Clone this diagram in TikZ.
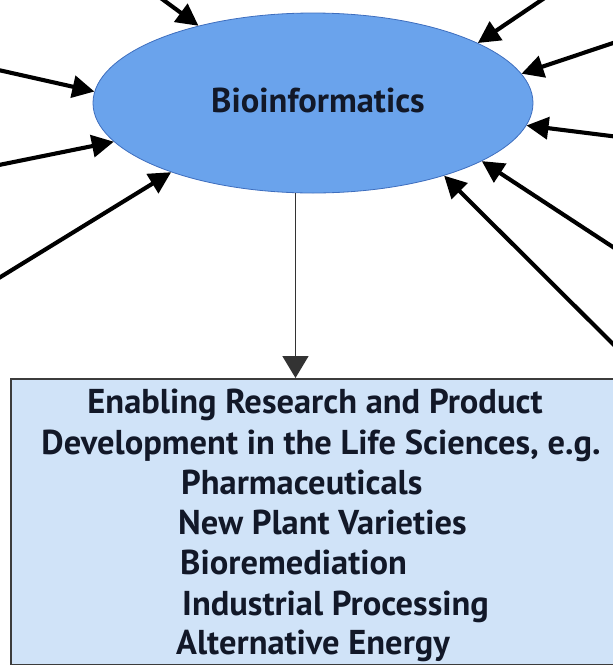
\documentclass[tikz,border=0pt]{standalone}
\usepackage{fontspec}
\setmainfont{PT Sans}
\usetikzlibrary{shapes.geometric,arrows.meta}
\definecolor{ovalfill}{RGB}{106,163,236}
\definecolor{ovalline}{RGB}{62,110,190}
\definecolor{boxfill}{RGB}{208,227,248}
\definecolor{boxline}{RGB}{60,60,60}
\definecolor{ink}{RGB}{18,24,40}
\tikzset{
  feed/.style={line width=4.1pt, black, -{Triangle[length=22pt,width=22pt]}},
  down/.style={line width=1.6pt, black!80, -{Triangle[length=22pt,width=26pt]}},
  oval/.style={ellipse, draw=ovalline, line width=0.8pt, fill=ovalfill,
    minimum width=440pt, minimum height=180pt, inner sep=0pt},
  panel/.style={rectangle, draw=boxline, line width=1.6pt, fill=boxfill,
    minimum width=620pt, minimum height=286pt, inner sep=0pt, anchor=north west},
  line/.style={inner sep=0pt, text=ink, font=\bfseries\fontsize{34.5}{38}\selectfont},
}
\begin{document}
\begin{tikzpicture}[x=1pt,y=-1pt]
\useasboundingbox (0,0) rectangle (613,665);

% central topic
\node[oval] (bio) at (313,103) {};
\node[line, anchor=base] (biolabel) at (318,112) {Bioinformatics};

% outcome panel
\node[panel] (box) at (10,378) {};
\node[line, anchor=base] (t1) at (315,413) {Enabling Research and Product};
\node[line, anchor=base] (t2) at (321,454) {Development in the Life Sciences, e.g.};
\node[line, anchor=base west] (t3) at (181,494) {Pharmaceuticals};
\node[line, anchor=base west] (t4) at (178,534) {New Plant Varieties};
\node[line, anchor=base west] (t5) at (180,574) {Bioremediation};
\node[line, anchor=base west] (t6) at (182,615) {Industrial Processing};
\node[line, anchor=base west] (t7) at (176,654) {Alternative Energy};

% incoming sources (beyond the frame)
\coordinate (s1) at (158,-4);
\coordinate (s2) at (-6,69);
\coordinate (s3) at (-6,166);
\coordinate (s4) at (-6,281);
\coordinate (s5) at (549,-5);
\coordinate (s6) at (619,41);
\coordinate (s7) at (619,137);
\coordinate (s8) at (619,251);
\coordinate (s9) at (619,350);

\draw[feed] (s1) -- (bio.146);
\draw[feed] (s2) -- (bio.177);
\draw[feed] (s3) -- (bio.191);
\draw[feed] (s4) -- (bio.206);
\draw[feed] (s5) -- (bio.20);
\draw[feed] (s6) -- (bio.8);
\draw[feed] (s7) -- (bio.354);
\draw[feed] (s8) -- (bio.341);
\draw[feed] (s9) -- (bio.331);

% result arrow
\draw[down] (bio.259) -- (bio.259 |- box.north);
\end{tikzpicture}
\end{document}
